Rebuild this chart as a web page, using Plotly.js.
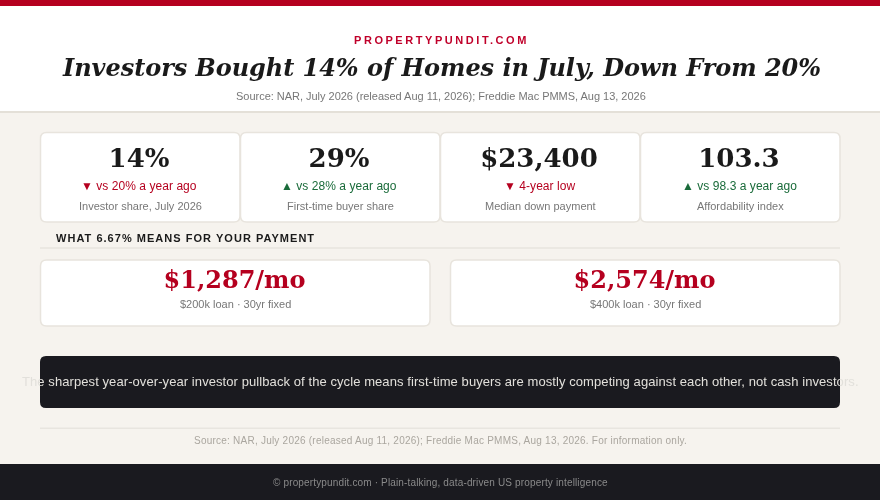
<!DOCTYPE html>
<html><head><meta charset="utf-8">
<script src="https://cdn.plot.ly/plotly-3.0.1.min.js"></script>
<style>html,body{margin:0;padding:0;background:#f6f3ee;overflow:hidden}#c{width:880px;height:500px}
svg text{text-rendering:auto!important}
.main-svg{will-change:transform}</style>
</head><body><div id="c"></div>
<script>
const brand = "PROPERTYPUNDIT.COM";
const headline = "Investors Bought 14% of Homes in July, Down From 20%";
const sourceLine = "Source: NAR, July 2026 (released Aug 11, 2026); Freddie Mac PMMS, Aug 13, 2026";
const kpiValues = ["14%", "29%", "$23,400", "103.3"];
const kpiChanges = ["▼ vs 20% a year ago", "▲ vs 28% a year ago", "▼ 4-year low", "▲ vs 98.3 a year ago"];
const kpiDirections = ["down", "up", "down", "up"];
const kpiLabels = ["Investor share, July 2026", "First-time buyer share", "Median down payment", "Affordability index"];
const paymentHeading = "WHAT 6.67% MEANS FOR YOUR PAYMENT";
const paymentValues = ["$1,287/mo", "$2,574/mo"];
const paymentLabels = ["$200k loan · 30yr fixed", "$400k loan · 30yr fixed"];
const insight = "The sharpest year-over-year investor pullback of the cycle means first-time buyers are mostly competing against each other, not cash investors.";
const footnote = "Source: NAR, July 2026 (released Aug 11, 2026); Freddie Mac PMMS, Aug 13, 2026. For information only.";
const footer = "© propertypundit.com · Plain-talking, data-driven US property intelligence";

const RED="#b5001f", GREEN="#1a6b3a", INK="#1a1a1a", SERIF="'DejaVu Serif',serif", SANS="'Liberation Sans',Arial,sans-serif";
const BG="#f6f3ee", RULE="#e8e4dd", DARK="#1a1a1f";
const round=(x0,y0,x1,y1,r)=>`M${x0+r},${y0}H${x1-r}Q${x1},${y0} ${x1},${y0+r}V${y1-r}Q${x1},${y1} ${x1-r},${y1}H${x0+r}Q${x0},${y1} ${x0},${y1-r}V${y0+r}Q${x0},${y0} ${x0+r},${y0}Z`;
const rect=(x0,y0,x1,y1,fill)=>({type:"rect",xref:"x",yref:"y",x0,y0,x1,y1,fillcolor:fill,line:{width:0},layer:"below"});
const card=(x0,y0,x1,y1,r,fill,lc,lw)=>({type:"path",xref:"x",yref:"y",path:round(x0,y0,x1,y1,r),fillcolor:fill,line:{color:lc,width:lw},layer:"below"});
const kpiX=[140,340,540,740], payX=[235.5,645.5];
const shapes=[
  rect(0,6,880,111,"#ffffff"), rect(0,111,880,113,"#e4e0d8"), rect(0,0,880,6,RED),
  ...kpiX.map(c=>card(c-99.5,132.5,c+100,222,6,"#ffffff",RULE,1.5)),
  rect(40,247,840,249,"#ebe8e2"),
  card(40.5,260,430,326,6,"#ffffff",RULE,1.5), card(450.5,260,840,326,6,"#ffffff",RULE,1.5),
  card(40,356,840,408,6,DARK,DARK,0),
  rect(40,427.5,840,429,"#e8e5df"),
  rect(0,464,880,500,DARK)
];
const ann=(x,y,text,size,color,o={})=>({xref:"x",yref:"y",x,y,text,showarrow:false,xanchor:o.anchor||"center",yanchor:"middle",borderpad:0,
  font:{family:o.family||SANS,size,color,weight:o.weight||400,style:o.style||"normal"}});
const sp=(t,s)=>`<span style="letter-spacing:${s}px">${t}</span>`;
const annotations=[
  ann(441,40,sp(brand,2.55),11,"#c0002a",{weight:700}),
  ann(441,67,sp(headline,-0.05),24,INK,{family:SERIF,weight:700,style:"italic"}),
  ann(440.5,96,sp(sourceLine,-0.02),11,"#777777"),
  ...kpiChanges.map((t,i)=>ann(kpiX[i]-1,185.5,sp(t,0.05),12,kpiDirections[i]==="down"?RED:GREEN)),
  ...kpiLabels.map((t,i)=>ann(kpiX[i],206,t,11,"#777777")),
  ann(55,238,sp(paymentHeading,1.03),11,INK,{anchor:"left",weight:700}),
  ...paymentLabels.map((t,i)=>ann(payX[i],304,t,11,"#777777")),
  ann(440.5,381.5,sp(insight,0.08),13,"#e2e0db"),
  ann(440.5,440.5,sp(footnote,0.23),10,"#aaa69f"),
  ann(440.5,482,sp(footer,0.15),10,"#8a8a8a")
];
const traces=[
 {type:"scatter",mode:"text",x:kpiX.map(c=>c-1),y:kpiX.map(()=>160.5),text:kpiValues,textposition:"middle center",cliponaxis:false,hoverinfo:"skip",
  textfont:{family:SERIF,size:26,color:INK,weight:700}},
 {type:"scatter",mode:"text",x:payX.map(c=>c-1),y:payX.map(()=>282),text:paymentValues,textposition:"middle center",cliponaxis:false,hoverinfo:"skip",
  textfont:{family:SERIF,size:24,color:RED,weight:700}}
];
Plotly.newPlot("c",traces,{
  width:880,height:500,margin:{l:0,r:0,t:0,b:0},paper_bgcolor:BG,plot_bgcolor:BG,showlegend:false,
  xaxis:{range:[0,880],visible:false,fixedrange:true},yaxis:{range:[500,0],visible:false,fixedrange:true},
  shapes,annotations
},{displayModeBar:false,staticPlot:true});
</script></body></html>
